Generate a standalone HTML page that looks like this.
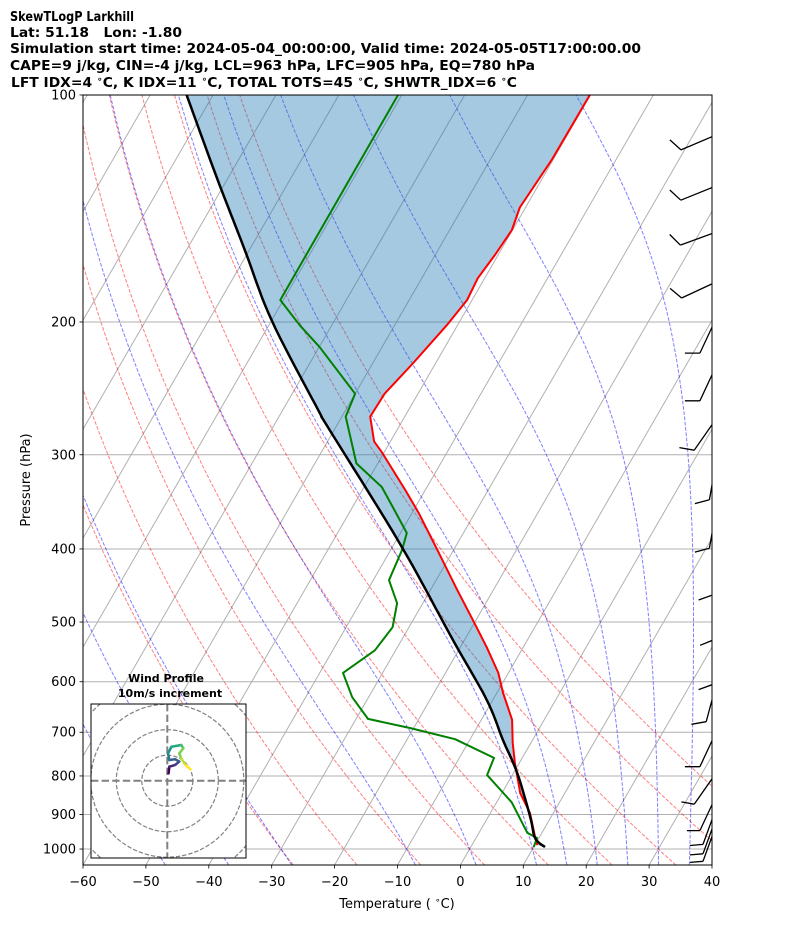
<!DOCTYPE html>
<html><head><meta charset="utf-8">
<style>
html,body{margin:0;padding:0;background:#fff;}
svg{display:block;font-family:"DejaVu Sans","Liberation Sans",sans-serif;}
</style></head>
<body>
<svg id="chart" width="794" height="937" viewBox="0 0 794 937" xmlns="http://www.w3.org/2000/svg">
<defs>
<clipPath id="plotclip"><rect x="83" y="95" width="629" height="770"/></clipPath>
<clipPath id="hodoclip"><rect x="91" y="704" width="155" height="154"/></clipPath>
</defs>
<g font-weight="bold" font-size="13.5" fill="#000">
<text x="10" y="21" textLength="124" lengthAdjust="spacingAndGlyphs">SkewTLogP Larkhill</text>
<text x="10" y="37" textLength="172" lengthAdjust="spacingAndGlyphs">Lat: 51.18&#160;&#160; Lon: -1.80</text>
<text x="10" y="53" textLength="631" lengthAdjust="spacingAndGlyphs">Simulation start time: 2024-05-04_00:00:00, Valid time: 2024-05-05T17:00:00.00</text>
<text x="10" y="70" textLength="525" lengthAdjust="spacingAndGlyphs">CAPE=9 j/kg, CIN=-4 j/kg, LCL=963 hPa, LFC=905 hPa, EQ=780 hPa</text>
<text x="11" y="87" textLength="506" lengthAdjust="spacingAndGlyphs">LFT IDX=4 <tspan font-size="9" dy="-5">∘</tspan><tspan dy="5">C, K IDX=11 </tspan><tspan font-size="9" dy="-5">∘</tspan><tspan dy="5">C, TOTAL TOTS=45 </tspan><tspan font-size="9" dy="-5">∘</tspan><tspan dy="5">C, SHWTR_IDX=6 </tspan><tspan font-size="9" dy="-5">∘</tspan><tspan dy="5">C</tspan></text>
</g>
<g id="plot" clip-path="url(#plotclip)"></g>
<rect x="83" y="95" width="629" height="770" fill="none" stroke="#000" stroke-width="1"/>
<g id="axes" font-size="13" fill="#000"></g>
<text x="397" y="908" text-anchor="middle" font-size="13">Temperature ( <tspan font-size="9" dy="-5">∘</tspan><tspan dy="5">C)</tspan></text>
<text x="30" y="480" text-anchor="middle" font-size="13" transform="rotate(-90 30 480)">Pressure (hPa)</text>
<g id="hodo"></g>
</svg>
<script>
// ---- data ----
const tempP = [100,122,141,151,163,175,187,202,227,249,267,288,298,334,358,401,453,497,540,584,621,674,723,769,843,896,964,988];
const tempT = [-50.1,-50.2,-50.9,-50.1,-50.5,-51.1,-50.8,-51.7,-53.6,-55.3,-55.5,-52.6,-50.3,-43.2,-39.0,-32.6,-25.8,-20.5,-15.8,-11.6,-9.0,-5.1,-2.9,-0.7,2.9,6.3,9.3,10.4];
const dewP = [100,187,202,216,249,267,308,331,352,381,401,440,472,508,545,584,629,672,691,715,757,798,867,952,967,994];
const dewT = [-80.6,-80.5,-75.1,-69.9,-60.0,-59.4,-53.4,-47.2,-43.6,-39.0,-38.2,-37.5,-34.1,-32.6,-33.3,-36.3,-32.6,-28.1,-20.6,-12.4,-4.5,-4.0,2.4,7.7,9.7,10.0];
const parcelP = [100,128.5,159,199,262,276,393,533,635,717,793,907,967,994];
const parcelT = [-114.2,-101.9,-91.2,-80.0,-64.3,-61.2,-39.2,-21.3,-10.9,-4.7,0.6,6.7,9.4,11.8];
const barbP = [113,132,152,177,198,229,269,307,356,410,470,539,606,700,793,851,884,910,931];
const barbDir = [247,248,250,245,205,205,215,190,190,185,183,185,195,205,215,205,200,200,200];
const barbSpd = [10,10,10,10,10,10,10,10,10,10,10,10,10,10,5,5,5,5,5];
const hodoU = [0.5,0.8,3.1,4.7,3.1,0.8,0.3,1.6,5.5,6.3,4.7,5.5,7.1,9.1];
const hodoV = [2.9,5.5,6.2,7.5,8.4,8.1,10.7,13.3,14.0,12.7,10.7,8.7,6.2,4.4];
const xTicks = [-60,-50,-40,-30,-20,-10,0,10,20,30,40];
const yTicks = [100,200,300,400,500,600,700,800,900,1000];
const dryT0 = [-30,-20,-10,0,10,20,30,40,50];
const moistT0 = [-50,-40,-30,-10,0,10,15,20,25,30,35];
const isoT = [-170,-160,-150,-140,-130,-120,-110,-100,-90,-80,-70,-60,-50,-40,-30,-20,-10,0,10,20,30,40];

// ---- scales ----
const X0=83,W=629,Y0=95,H=770,PTOP=100,PBOT=1050,TMIN=-60,TMAX=40;
const SKP=Math.tan(30*Math.PI/180);
function py(p){return Y0+H*(Math.log10(p)-Math.log10(PTOP))/(Math.log10(PBOT)-Math.log10(PTOP));}
function px(T,p){return X0+(T-TMIN)/(TMAX-TMIN)*W+SKP*(Y0+H-py(p));}
const NS="http://www.w3.org/2000/svg";
function mk(tag,attrs,parent){const e=document.createElementNS(NS,tag);for(const k in attrs)e.setAttribute(k,attrs[k]);parent.appendChild(e);return e;}
const plot=document.getElementById('plot'),axes=document.getElementById('axes'),hodo=document.getElementById('hodo');
function pts(arr){return arr.map(q=>q[0].toFixed(1)+','+q[1].toFixed(1)).join(' ');}
function presRange(n){const a=[];for(let i=0;i<=n;i++){a.push(Math.exp(Math.log(PBOT)+(Math.log(PTOP)-Math.log(PBOT))*i/n));}return a;}

mk('rect',{x:83,y:95,width:629,height:770,fill:'#fff'},plot);
yTicks.forEach(p=>{const l=mk('line',{x1:83,x2:712,y1:py(p),y2:py(p),stroke:'#b0b0b0','stroke-width':1},plot);

});
isoT.forEach(T=>{const l=mk('line',{x1:px(T,PBOT),y1:py(PBOT),x2:px(T,PTOP),y2:py(PTOP),stroke:'#b0b0b0','stroke-width':1},plot);

});
const prs=presRange(60);
dryT0.forEach(t0=>{const a=prs.map(p=>[px((t0+273.15)*Math.pow(p/1000,0.2857)-273.15,p),py(p)]);
const l=mk('polyline',{points:pts(a),fill:'none',stroke:'red','stroke-opacity':0.5,'stroke-width':1,'stroke-dasharray':'3.7,1.6'},plot);

});
function es(Tc){return 6.112*Math.exp(17.67*Tc/(Tc+243.5));}
function dTdp(p,T){const Tc=T-273.15,e=es(Tc),rs=0.622*e/(p-e),Rd=287.04,Lv=2.501e6,Cp=1005.7;
return (1/p)*(Rd*T+Lv*rs)/(Cp+Lv*Lv*rs*0.622/(Rd*T*T));}
function moist(t0,p1){const out=[];let T=t0+273.15,p=1000;const n=80,dp=(p1-1000)/n;out.push([p,T]);
for(let i=0;i<n;i++){const k1=dTdp(p,T),k2=dTdp(p+dp/2,T+dp/2*k1),k3=dTdp(p+dp/2,T+dp/2*k2),k4=dTdp(p+dp,T+dp*k3);
T+=dp/6*(k1+2*k2+2*k3+k4);p+=dp;out.push([p,T]);}return out;}
moistT0.forEach(t0=>{const up=moist(t0,PTOP),dn=moist(t0,PBOT).reverse();const all=dn.concat(up.slice(1));
const a=all.map(q=>[px(q[1]-273.15,q[0]),py(q[0])]);
const l=mk('polyline',{points:pts(a),fill:'none',stroke:'blue','stroke-opacity':0.5,'stroke-width':1,'stroke-dasharray':'3.7,1.6'},plot);

});

const parcelPx=parcelP.map((p,i)=>[px(parcelT[i],p),py(p)]);
const parcelS=[];
for(let i=0;i<parcelPx.length-1;i++){const p0=parcelPx[Math.max(0,i-1)],p1=parcelPx[i],p2=parcelPx[i+1],p3=parcelPx[Math.min(parcelPx.length-1,i+2)];
for(let s=0;s<10;s++){const t=s/10,t2=t*t,t3=t2*t;const f=(a,b,c,d)=>0.5*((2*b)+(-a+c)*t+(2*a-5*b+4*c-d)*t2+(-a+3*b-3*c+d)*t3);
parcelS.push([f(p0[0],p1[0],p2[0],p3[0]),f(p0[1],p1[1],p2[1],p3[1])]);}}
parcelS.push(parcelPx[parcelPx.length-1]);
const tempPx=tempP.map((p,i)=>[px(tempT[i],p),py(p)]);
const fill=mk('polygon',{points:pts(parcelS.concat(tempPx.slice().reverse())),fill:'#1f77b4','fill-opacity':0.4,stroke:'none'},plot);


const tl=mk('polyline',{points:pts(tempPx),fill:'none',stroke:'red','stroke-width':2,'stroke-linejoin':'round'},plot);


const dl=mk('polyline',{points:pts(dewP.map((p,i)=>[px(dewT[i],p),py(p)])),fill:'none',stroke:'green','stroke-width':2,'stroke-linejoin':'round'},plot);


const pl=mk('polyline',{points:pts(parcelS),fill:'none',stroke:'#000','stroke-width':2.5,'stroke-linejoin':'round'},plot);



const BL=38;
barbP.forEach((p,i)=>{const d=barbDir[i]*Math.PI/180;const sx=Math.sin(d),sy=-Math.cos(d);
const ax=716,ay=py(p),tx=ax+BL*sx,ty=ay+BL*sy;const a=65*Math.PI/180;
const bx=sx*Math.cos(a)-sy*Math.sin(a),by=sx*Math.sin(a)+sy*Math.cos(a);
let dstr='M'+ax.toFixed(1)+','+ay.toFixed(1)+' L'+tx.toFixed(1)+','+ty.toFixed(1);
let spd=barbSpd[i],k=0;
while(spd>=10){const ox=tx-sx*k*5,oy=ty-sy*k*5;dstr+=' M'+ox.toFixed(1)+','+oy.toFixed(1)+' l'+(bx*15).toFixed(1)+','+(by*15).toFixed(1);spd-=10;k++;}
if(spd>=5){const ox=tx-sx*k*5,oy=ty-sy*k*5;dstr+=' M'+ox.toFixed(1)+','+oy.toFixed(1)+' l'+(bx*13).toFixed(1)+','+(by*13).toFixed(1);}
const b=mk('path',{d:dstr,fill:'none',stroke:'#000','stroke-width':1.3},plot);

});

xTicks.forEach(T=>{const x=X0+(T-TMIN)/(TMAX-TMIN)*W;
mk('line',{x1:x,x2:x,y1:865,y2:868.5,stroke:'#000','stroke-width':0.8},axes);
const t=mk('text',{x:x,y:886,'text-anchor':'middle'},axes);t.textContent=(T<0?'\u2212'+(-T):String(T));

});
yTicks.forEach(p=>{const y=py(p);
mk('line',{x1:79.5,x2:83,y1:y,y2:y,stroke:'#000','stroke-width':0.8},axes);
const t=mk('text',{x:76,y:y+4.5,'text-anchor':'end'},axes);t.textContent=String(p);

});

const HC=[167.3,780.7],HS=2.55;
mk('rect',{x:91,y:704,width:155,height:154,fill:'#fff'},hodo);
const hg=mk('g',{'clip-path':'url(#hodoclip)'},hodo);
[10,20,30,40].forEach(r=>{const c=mk('circle',{cx:HC[0],cy:HC[1],r:r*HS,fill:'none',stroke:'#808080','stroke-width':1.2,'stroke-dasharray':'4.4,1.9'},hg);

});
mk('line',{x1:91,x2:246,y1:HC[1],y2:HC[1],stroke:'#808080','stroke-width':2,'stroke-dasharray':'7.4,3.2'},hg);
mk('line',{x1:HC[0],x2:HC[0],y1:704,y2:858,stroke:'#808080','stroke-width':2,'stroke-dasharray':'7.4,3.2'},hg);
const vir=['#440154','#482475','#414487','#355f8d','#2a788e','#21918c','#22a884','#44bf70','#7ad151','#bddf26','#fde725'];
for(let i=0;i<hodoU.length-1;i++){const c=vir[Math.round(i/(hodoU.length-2)*(vir.length-1))];
const s=mk('line',{x1:HC[0]+hodoU[i]*HS,y1:HC[1]-hodoV[i]*HS,x2:HC[0]+hodoU[i+1]*HS,y2:HC[1]-hodoV[i+1]*HS,stroke:c,'stroke-width':2.5,'stroke-linecap':'round'},hg);

}
mk('rect',{x:91,y:704,width:155,height:154,fill:'none',stroke:'#000','stroke-width':1},hodo);
const h1=mk('text',{x:166,y:682,'text-anchor':'middle','font-size':11,'font-weight':'bold'},hodo);h1.textContent='Wind Profile';


const h2=mk('text',{x:170,y:697,'text-anchor':'middle','font-size':11,'font-weight':'bold'},hodo);h2.textContent='10m/s increment';


</script>
</body></html>
